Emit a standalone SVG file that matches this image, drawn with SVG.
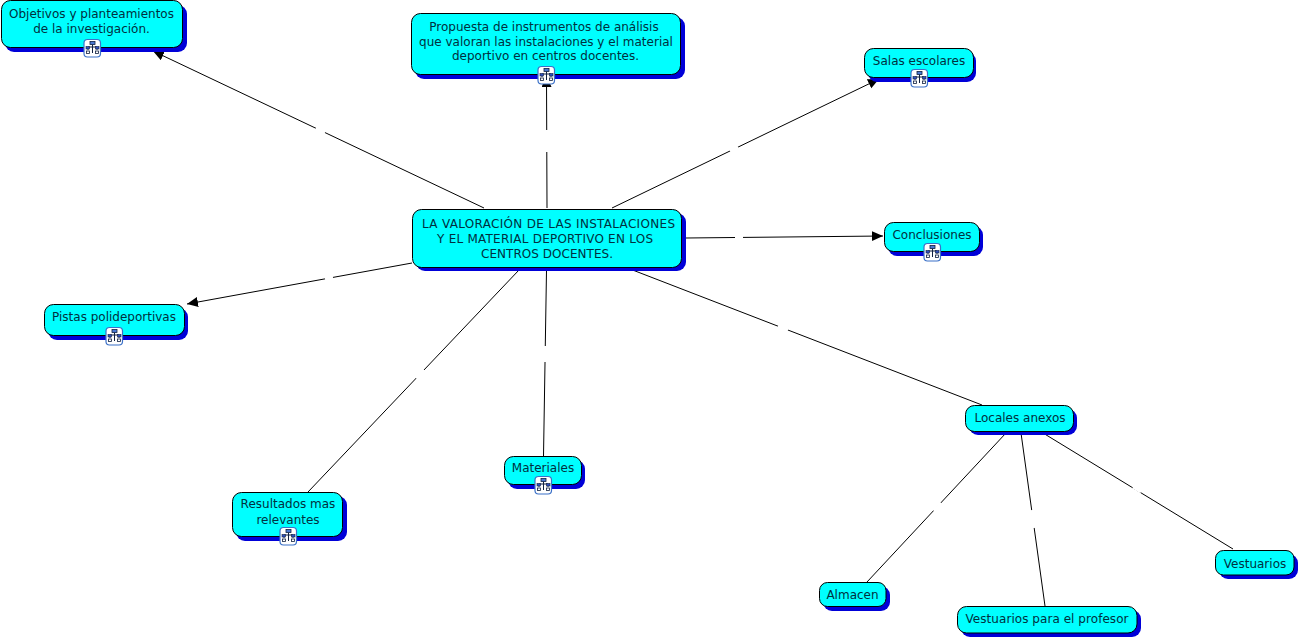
<svg xmlns="http://www.w3.org/2000/svg" width="1300" height="640" viewBox="0 0 1300 640">
<style>
.s{fill:#0000d8}
.b{fill:#00ffff;stroke:#000;stroke-width:1}
text{font-family:"DejaVu Sans",Verdana,sans-serif;font-size:12px;fill:#003040;text-anchor:middle}
.c line{stroke:#000;stroke-width:1}
.c .g{stroke:#fff;stroke-width:3}
</style>
<defs>
<marker id="a" markerUnits="userSpaceOnUse" markerWidth="12" markerHeight="11" refX="11" refY="5" orient="auto"><path d="M0 0L11 5L0 10Z" fill="#000"/></marker>
<g id="i">
<rect x="-8" y="-8.500" width="16.500" height="17.500" rx="3.500" fill="#fff" stroke="#3a70c8" stroke-width="1.200"/>
<path d="M0.500-3.500V5M-4 2V-1H5V2" fill="none" stroke="#102040" stroke-width="1"/>
<rect x="-2" y="-6.500" width="5" height="3" fill="#4a78d0" stroke="#102040" stroke-width=".8"/>
<rect x="-6" y="-1.500" width="3.500" height="2.500" fill="#3050c0" stroke="#102040" stroke-width=".6"/>
<rect x="3.500" y="-1.500" width="3.500" height="2.500" fill="#3050c0" stroke="#102040" stroke-width=".6"/>
<rect x="-5.500" y="3" width="3" height="2.500" fill="#fff" stroke="#102040" stroke-width=".8"/>
<rect x="3.500" y="3" width="3" height="2.500" fill="#fff" stroke="#102040" stroke-width=".8"/>
</g>
</defs>
<rect width="1300" height="640" fill="#fff"/>
<g class="c" id="connectors">
<line x1="484" y1="208" x2="153" y2="51" marker-end="url(#a)"/><line class="g" x1="325" y1="132.500" x2="316" y2="128"/>
<line x1="547" y1="208" x2="546.500" y2="76" marker-end="url(#a)"/><line class="g" x1="547" y1="152" x2="547" y2="130"/>
<line x1="612" y1="208" x2="879" y2="79" marker-end="url(#a)"/><line class="g" x1="738" y1="147" x2="730" y2="151"/>
<line x1="686" y1="238" x2="883" y2="236" marker-end="url(#a)"/><line class="g" x1="735" y1="237.500" x2="743" y2="237.500"/>
<line x1="412" y1="263" x2="187" y2="304" marker-end="url(#a)"/><line class="g" x1="333" y1="277.500" x2="325" y2="279"/>
<line x1="519" y1="270" x2="308" y2="492"/><line class="g" x1="424" y1="370" x2="416" y2="378"/>
<line x1="546.500" y1="270" x2="543.500" y2="456"/><line class="g" x1="545" y1="346" x2="545" y2="362"/>
<line x1="630" y1="269" x2="982" y2="405"/><line class="g" x1="778" y1="326" x2="788" y2="330"/>
<line x1="1006" y1="433" x2="867" y2="582"/><line class="g" x1="941" y1="503" x2="934" y2="511"/>
<line x1="1021" y1="433" x2="1045" y2="606"/><line class="g" x1="1032" y1="510" x2="1034" y2="528"/>
<line x1="1043" y1="433" x2="1233" y2="549"/><line class="g" x1="1133" y1="487" x2="1141" y2="492"/>
</g>
<g id="n1"><rect class="s" x="5" y="5" width="182" height="47" rx="9"/><rect class="b" x="1.500" y="0.500" width="181" height="47" rx="9"/><text x="91.500" y="18">Objetivos y planteamientos</text><text x="91.500" y="33">de la investigación.</text><use href="#i" x="92" y="48"/></g>
<g id="n2"><rect class="s" x="415" y="17" width="270" height="62" rx="9"/><rect class="b" x="411.500" y="13.500" width="269" height="61" rx="9"/><text x="544" y="31">Propuesta de instrumentos de análisis</text><text x="546" y="45.500">que valoran las instalaciones y el material</text><text x="545.500" y="60">deportivo en centros docentes.</text><use href="#i" x="546" y="75"/></g>
<g id="n3"><rect class="s" x="868" y="52" width="108" height="30" rx="9"/><rect class="b" x="864.500" y="48.500" width="109" height="29" rx="9"/><text x="919" y="65">Salas escolares</text><use href="#i" x="919" y="78"/></g>
<g id="n4"><rect class="s" x="416" y="213" width="270" height="58" rx="9"/><rect class="b" x="412.500" y="209.500" width="269" height="58" rx="9"/><text x="548.500" y="228" textLength="253">LA VALORACIÓN DE LAS INSTALACIONES</text><text x="545" y="243" textLength="216">Y EL MATERIAL DEPORTIVO EN LOS</text><text x="547" y="258" textLength="132">CENTROS DOCENTES.</text></g>
<g id="n5"><rect class="s" x="888" y="226" width="95" height="30" rx="9"/><rect class="b" x="884.500" y="222.500" width="95" height="29" rx="9"/><text x="932" y="239">Conclusiones</text><use href="#i" x="932" y="252"/></g>
<g id="n6"><rect class="s" x="48" y="308" width="140" height="32" rx="9"/><rect class="b" x="44.500" y="304.500" width="140" height="31" rx="9"/><text x="114" y="321">Pistas polideportivas</text><use href="#i" x="114" y="336"/></g>
<g id="n7"><rect class="s" x="508" y="460" width="77" height="29" rx="9"/><rect class="b" x="504.500" y="456.500" width="77" height="28" rx="9"/><text x="543" y="472">Materiales</text><use href="#i" x="543" y="485"/></g>
<g id="n8"><rect class="s" x="236" y="496" width="111" height="45" rx="9"/><rect class="b" x="232.500" y="492.500" width="110" height="44" rx="9"/><text x="288" y="508">Resultados mas</text><text x="288" y="524">relevantes</text><use href="#i" x="288" y="536"/></g>
<g id="n9"><rect class="s" x="969" y="409" width="108" height="26" rx="9"/><rect class="b" x="965.500" y="405.500" width="108" height="26" rx="9"/><text x="1020" y="422">Locales anexos</text></g>
<g id="n10"><rect class="s" x="823" y="586" width="67" height="25" rx="9"/><rect class="b" x="819.500" y="582.500" width="66.500" height="24" rx="8"/><text x="852.500" y="599">Almacen</text></g>
<g id="n11"><rect class="s" x="961" y="610" width="180" height="27" rx="9"/><rect class="b" x="957.500" y="606.500" width="179.500" height="26.500" rx="9"/><text x="1047" y="623" textLength="163">Vestuarios para el profesor</text></g>
<g id="n12"><rect class="s" x="1219" y="554" width="79" height="25" rx="9"/><rect class="b" x="1215.500" y="550.500" width="78.500" height="24.500" rx="8"/><text x="1255" y="568">Vestuarios</text></g>
</svg>
